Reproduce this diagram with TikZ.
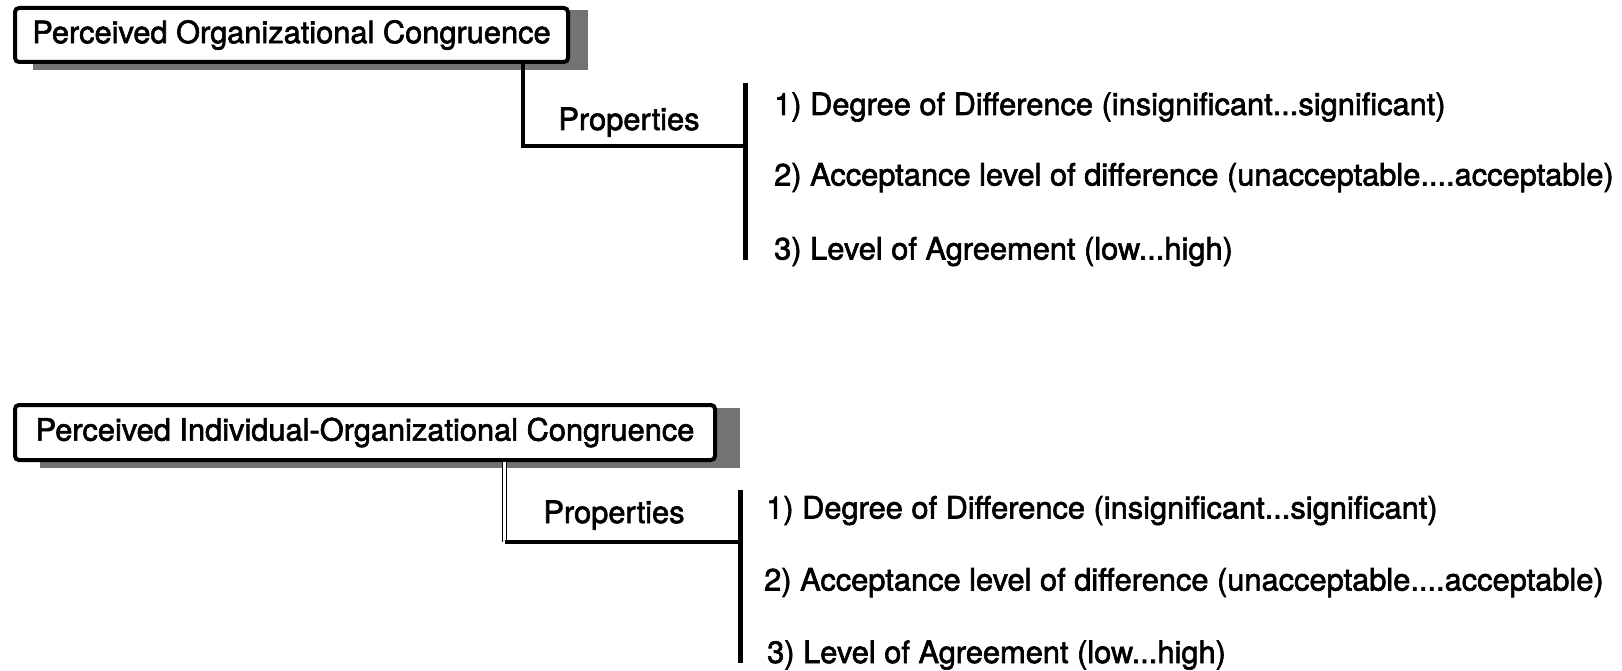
\documentclass[tikz,border=0pt]{standalone}
\usepackage{fontspec}
\setmainfont{TeX Gyre Heros}[FakeBold=2]
\begin{document}
\begin{tikzpicture}[x=1pt,y=-1pt,
  titlebox/.style={draw, line width=4pt, rounded corners=4pt, fill=white,
    inner sep=0pt, font=\fontsize{30.8}{34}\selectfont},
  shadowfill/.style={fill=black!55},
  proplabel/.style={anchor=base, inner sep=0pt, font=\fontsize{30.8}{34}\selectfont},
  item/.style={anchor=base west, inner sep=0pt, font=\fontsize{30.8}{34}\selectfont},
  joint/.style={line width=3.5pt},
  bar/.style={line width=5pt}]
\useasboundingbox (0,0) rectangle (1622,671);

% ---- first concept ----
\fill[shadowfill] (33,10) rectangle (588,70);
\node[titlebox, minimum width=553pt, minimum height=54pt] (title1) at (291.5,35)
  {Perceived Organizational Congruence};
\node[proplabel] (prop1) at (629,130) {Properties};
\coordinate (bar1top) at (745,83);
\coordinate (bar1bot) at (745,260);
\coordinate (knee1) at (523,146);
\coordinate (join1) at (745,146);
\draw[joint] (title1.south -| knee1) -- (knee1) -- (join1);
\draw[bar] (bar1top) -- (bar1bot);
\node[item] (a1) at (774,115) {1) Degree of Difference (insignificant...significant)};
\node[item] (a2) at (774,185.5) {2) Acceptance level of difference (unacceptable....acceptable)};
\node[item] (a3) at (774,259.5) {3) Level of Agreement (low...high)};

% ---- second concept ----
\fill[shadowfill] (40,408) rectangle (740,468);
\node[titlebox, minimum width=700pt, minimum height=55pt] (title2) at (365,432.5)
  {Perceived Individual-Organizational Congruence};
\node[proplabel] (prop2) at (614,523) {Properties};
\coordinate (bar2top) at (740,490);
\coordinate (bar2bot) at (740,663);
\coordinate (knee2) at (504.5,542);
\coordinate (join2) at (740,542);
\draw[double, double distance=2.5pt, line width=1pt] (title2.south -| knee2) -- (knee2);
\draw[joint] (knee2) -- (join2);
\draw[bar] (bar2top) -- (bar2bot);
\node[item] (b1) at (766,518.5) {1) Degree of Difference (insignificant...significant)};
\node[item] (b2) at (764,590.5) {2) Acceptance level of difference (unacceptable....acceptable)};
\node[item] (b3) at (767,663) {3) Level of Agreement (low...high)};
\end{tikzpicture}
\end{document}
